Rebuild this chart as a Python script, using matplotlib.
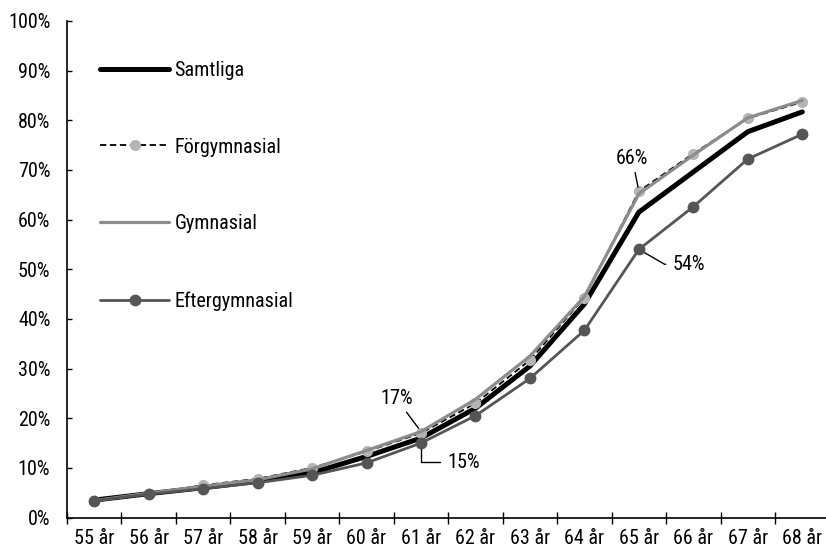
import matplotlib
matplotlib.use("Agg")
import matplotlib.pyplot as plt
from matplotlib.ticker import FixedLocator, PercentFormatter

plt.rcParams['font.family'] = ['Roboto Condensed', 'Archivo Narrow', 'DejaVu Sans']

ages = ["55 år", "56 år", "57 år", "58 år", "59 år", "60 år", "61 år",
        "62 år", "63 år", "64 år", "65 år", "66 år", "67 år", "68 år"]
samtliga = [3.5, 4.8, 6.0, 7.3, 9.0, 12.3, 16.0, 22.0, 30.5, 43.0, 61.5, 69.6, 77.7, 81.7]
forgymnasial = [3.3, 4.8, 6.5, 7.8, 10.0, 13.3, 17.0, 23.0, 31.7, 44.3, 65.7, 73.3, 80.4, 83.7]
gymnasial = [3.4, 4.9, 6.3, 7.6, 9.8, 13.5, 17.3, 23.8, 32.5, 44.5, 65.2, 73.0, 80.5, 84.0]
eftergymnasial = [3.4, 4.7, 5.8, 7.0, 8.5, 11.0, 15.0, 20.5, 28.0, 37.7, 54.0, 62.6, 72.2, 77.2]
yticks = [0, 10, 20, 30, 40, 50, 60, 70, 80, 90, 100]

FS = 14.5
W, H = 826, 550
fig = plt.figure(figsize=(W / 100, H / 100), dpi=100)
left, right, top, bottom = 67, 829.5, 21, 517.5
ax = fig.add_axes([left / W, 1 - bottom / H, (right - left) / W, (bottom - top) / H])

x = list(range(len(ages)))
ax.plot(x, samtliga, color='black', lw=3.6, label='Samtliga', zorder=2,
        solid_capstyle='round', solid_joinstyle='round')
ax.plot(x, forgymnasial, color='black', lw=1.3, ls=(0, (3.5, 2)), marker='o',
        markersize=7, markerfacecolor='#b4b4b4', markeredgecolor='#b4b4b4',
        label='Förgymnasial', zorder=3)
ax.plot(x, gymnasial, color='#8c8c8c', lw=2.3, label='Gymnasial', zorder=4,
        solid_capstyle='round')
ax.plot(x, eftergymnasial, color='#555555', lw=2.0, marker='o', markersize=7.5,
        markerfacecolor='#555555', markeredgecolor='#555555',
        label='Eftergymnasial', zorder=5, solid_capstyle='round')

ax.set_xlim(-0.5, len(ages) - 0.5)
ax.set_ylim(0, 100)
ax.xaxis.set_major_locator(FixedLocator([i - 0.5 for i in range(len(ages) + 1)]))
ax.xaxis.set_minor_locator(FixedLocator(x))
ax.set_xticklabels([], minor=False)
ax.set_xticklabels(ages, minor=True)
ax.tick_params(axis='x', which='major', direction='inout', length=8.5, width=1, color='black')
ax.tick_params(axis='x', which='minor', length=0, pad=8, labelsize=FS)
ax.set_yticks(yticks)
ax.yaxis.set_major_formatter(PercentFormatter(decimals=0))
ax.tick_params(axis='y', direction='in', length=3.6, width=1, pad=12, labelsize=FS)

for s in ['top', 'right']:
    ax.spines[s].set_visible(False)
for s in ['left', 'bottom']:
    ax.spines[s].set_linewidth(1.2)

leg = ax.legend(loc='upper left', bbox_to_anchor=(0.043, 0.92), frameon=False,
                fontsize=FS, handlelength=3.45, handletextpad=0.25,
                labelspacing=2.87, borderpad=0, borderaxespad=0)

ap = dict(arrowstyle='-', color='black', lw=1, shrinkA=1, shrinkB=3)
ax.annotate('17%', xy=(6, gymnasial[6]), xytext=(5.55, 22.0), fontsize=FS,
            ha='center', va='bottom', arrowprops=ap)
ax.annotate('15%', xy=(6, eftergymnasial[6]), xytext=(6.48, 11.1), fontsize=FS,
            ha='left', va='center',
            arrowprops=dict(arrowstyle='-', color='black', lw=1, shrinkA=3, shrinkB=2,
                            connectionstyle='angle,angleA=0,angleB=90,rad=0'))
ax.annotate('66%', xy=(10, forgymnasial[10]), xytext=(9.88, 70.3), fontsize=FS,
            ha='center', va='bottom', arrowprops=ap)
ax.annotate('54%', xy=(10, eftergymnasial[10]), xytext=(10.62, 51.0), fontsize=FS,
            ha='left', va='center',
            arrowprops=dict(arrowstyle='-', color='black', lw=1, shrinkA=3, shrinkB=2,
                            connectionstyle='angle,angleA=0,angleB=-30,rad=0'))

fig.savefig('out.png', dpi=100)
